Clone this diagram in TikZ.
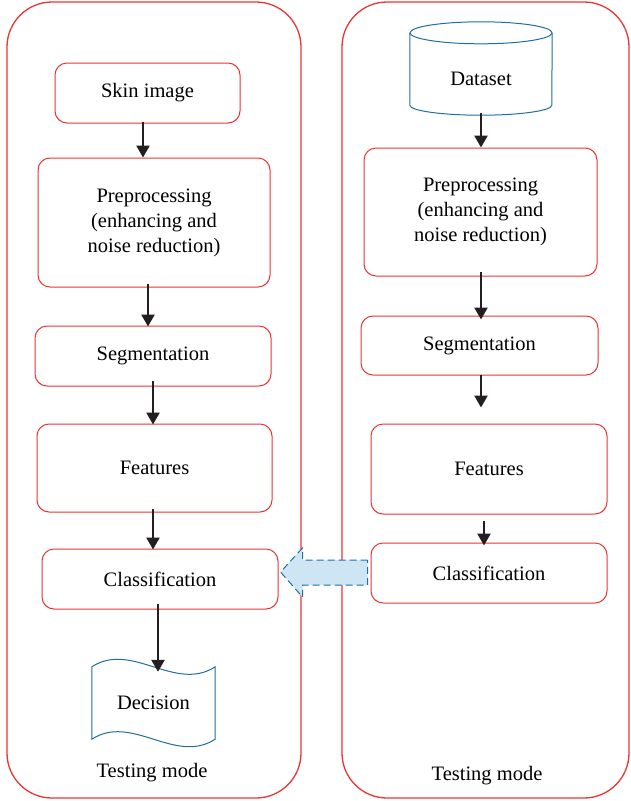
\documentclass[tikz,border=0pt]{standalone}
\usepackage{fontspec}
\setmainfont{Liberation Serif}
\usetikzlibrary{shapes.geometric,arrows.meta,calc,positioning}

\definecolor{boxred}{RGB}{236,52,52}
\definecolor{dbblue}{RGB}{31,110,160}
\definecolor{blockfill}{RGB}{206,229,244}
\definecolor{flowgray}{RGB}{35,31,32}

\begin{document}
\begin{tikzpicture}[x=1pt, y=-1pt,
    box/.style={draw=boxred, line width=1pt, rounded corners=12pt, align=center,
        font=\fontsize{20.5}{25}\selectfont, inner sep=0pt},
    frame/.style={draw=boxred, line width=1.3pt, rounded corners=45pt},
    flow/.style={-{Triangle[length=12pt,width=13pt]}, line width=2.6pt, flowgray},
    lbl/.style={font=\fontsize{20.5}{25}\selectfont}]
    \useasboundingbox (0,0) rectangle (630,801);

    % Cadres des deux modes
    \draw[frame] (7,2) rectangle (301,798);
    \draw[frame] (342,2) rectangle (629,798);

    % Colonne de gauche
    \node[box, minimum width=185pt, minimum height=60pt] (skin) at (147.5,93) {Skin image};
    \node[box, minimum width=232pt, minimum height=129pt] (pre1) at (154,222.5)
        {Preprocessing\\(enhancing and\\noise reduction)};
    \node[box, minimum width=236pt, minimum height=60pt] (seg1) at (153,356) {Segmentation};
    \node[box, minimum width=235pt, minimum height=88pt] (feat1) at (154.5,468) {Features};
    \node[box, minimum width=236pt, minimum height=60pt] (cls1) at (160,579) {Classification};
    \node[lbl, minimum width=123pt, minimum height=72pt, inner sep=0pt] (dec) at (153.5,703) {Decision};
    \node[lbl] (mode1) at (152,773) {Testing mode};

    % Colonne de droite
    \node[minimum width=142pt, minimum height=93pt, inner sep=0pt] (data) at (481,68.5) {};
    \node[lbl] (datalbl) at (481,79) {Dataset};
    \node[box, minimum width=233pt, minimum height=128pt] (pre2) at (480.5,212)
        {Preprocessing\\(enhancing and\\noise reduction)};
    \node[box, minimum width=237pt, minimum height=59pt] (seg2) at (479.5,345.5) {Segmentation};
    \node[box, minimum width=236pt, minimum height=90pt] (feat2) at (489,469) {Features};
    \node[box, minimum width=236pt, minimum height=60pt] (cls2) at (489,573) {Classification};
    \node[lbl] (mode2) at (487,776) {Testing mode};

    % Cylindre de la base
    \draw[dbblue, line width=1pt] ($(data.north west)+(0,11)$) -- ($(data.south west)+(0,-10)$)
        arc[start angle=180, end angle=0, x radius=71, y radius=10]
        -- ($(data.north east)+(0,11)$);
    \draw[dbblue, line width=1pt] ($(data.north)+(0,11)$) ellipse[x radius=71, y radius=11];

    % Forme du document
    \draw[dbblue, line width=1pt] (dec.north west)
        .. controls +(40,-26) and +(-40,26) .. (dec.north east)
        -- (dec.south east)
        .. controls +(-40,26) and +(40,-26) .. (dec.south west) -- cycle;

    % Fleches
    \draw[flow] ([xshift=-4.5pt,yshift=2pt]skin.south) -- ([xshift=-4.5pt]skin.south |- pre1.north);
    \draw[flow] ([xshift=-6pt,yshift=4pt]pre1.south) -- ([xshift=-6pt,yshift=-1pt]pre1.south |- seg1.north);
    \draw[flow] ([yshift=6pt]seg1.south) -- ([yshift=-1pt]seg1.south |- feat1.north);
    \draw[flow] ([xshift=-1.5pt,yshift=4pt]feat1.south) -- ([xshift=-1.5pt,yshift=-1pt]feat1.south |- cls1.north);
    \draw[flow] ([xshift=-2pt,yshift=6pt]cls1.south) -- ([xshift=-2pt,yshift=-5pt]cls1.south |- dec.north);

    \draw[flow] ([yshift=2pt]data.south) -- (data.south |- pre2.north);
    \draw[flow] ([xshift=0.5pt,yshift=5pt]pre2.south) -- ([xshift=0.5pt,yshift=-4pt]pre2.south |- seg2.north);
    \draw[flow] ([xshift=1.5pt,yshift=1pt]seg2.south) -- ([xshift=1.5pt,yshift=16pt]seg2.south |- feat2.north);
    \draw[flow] ([xshift=-5pt,yshift=-6pt]feat2.south) -- ([xshift=-5pt,yshift=-3pt]feat2.south |- cls2.north);

    % Fleche de transfert
    \draw[dbblue, fill=blockfill, line width=1pt, dash pattern=on 7pt off 4pt]
        ($(cls2.west)+(-3,-13)$) -- ++(-65,0) -- ++(0,-12)
        -- ($(cls1.east)+(2,-7)$) -- ($(cls2.west)+(-68,24)$) -- ++(0,-12)
        -- ($(cls2.west)+(-3,12)$) -- cycle;
\end{tikzpicture}
\end{document}
